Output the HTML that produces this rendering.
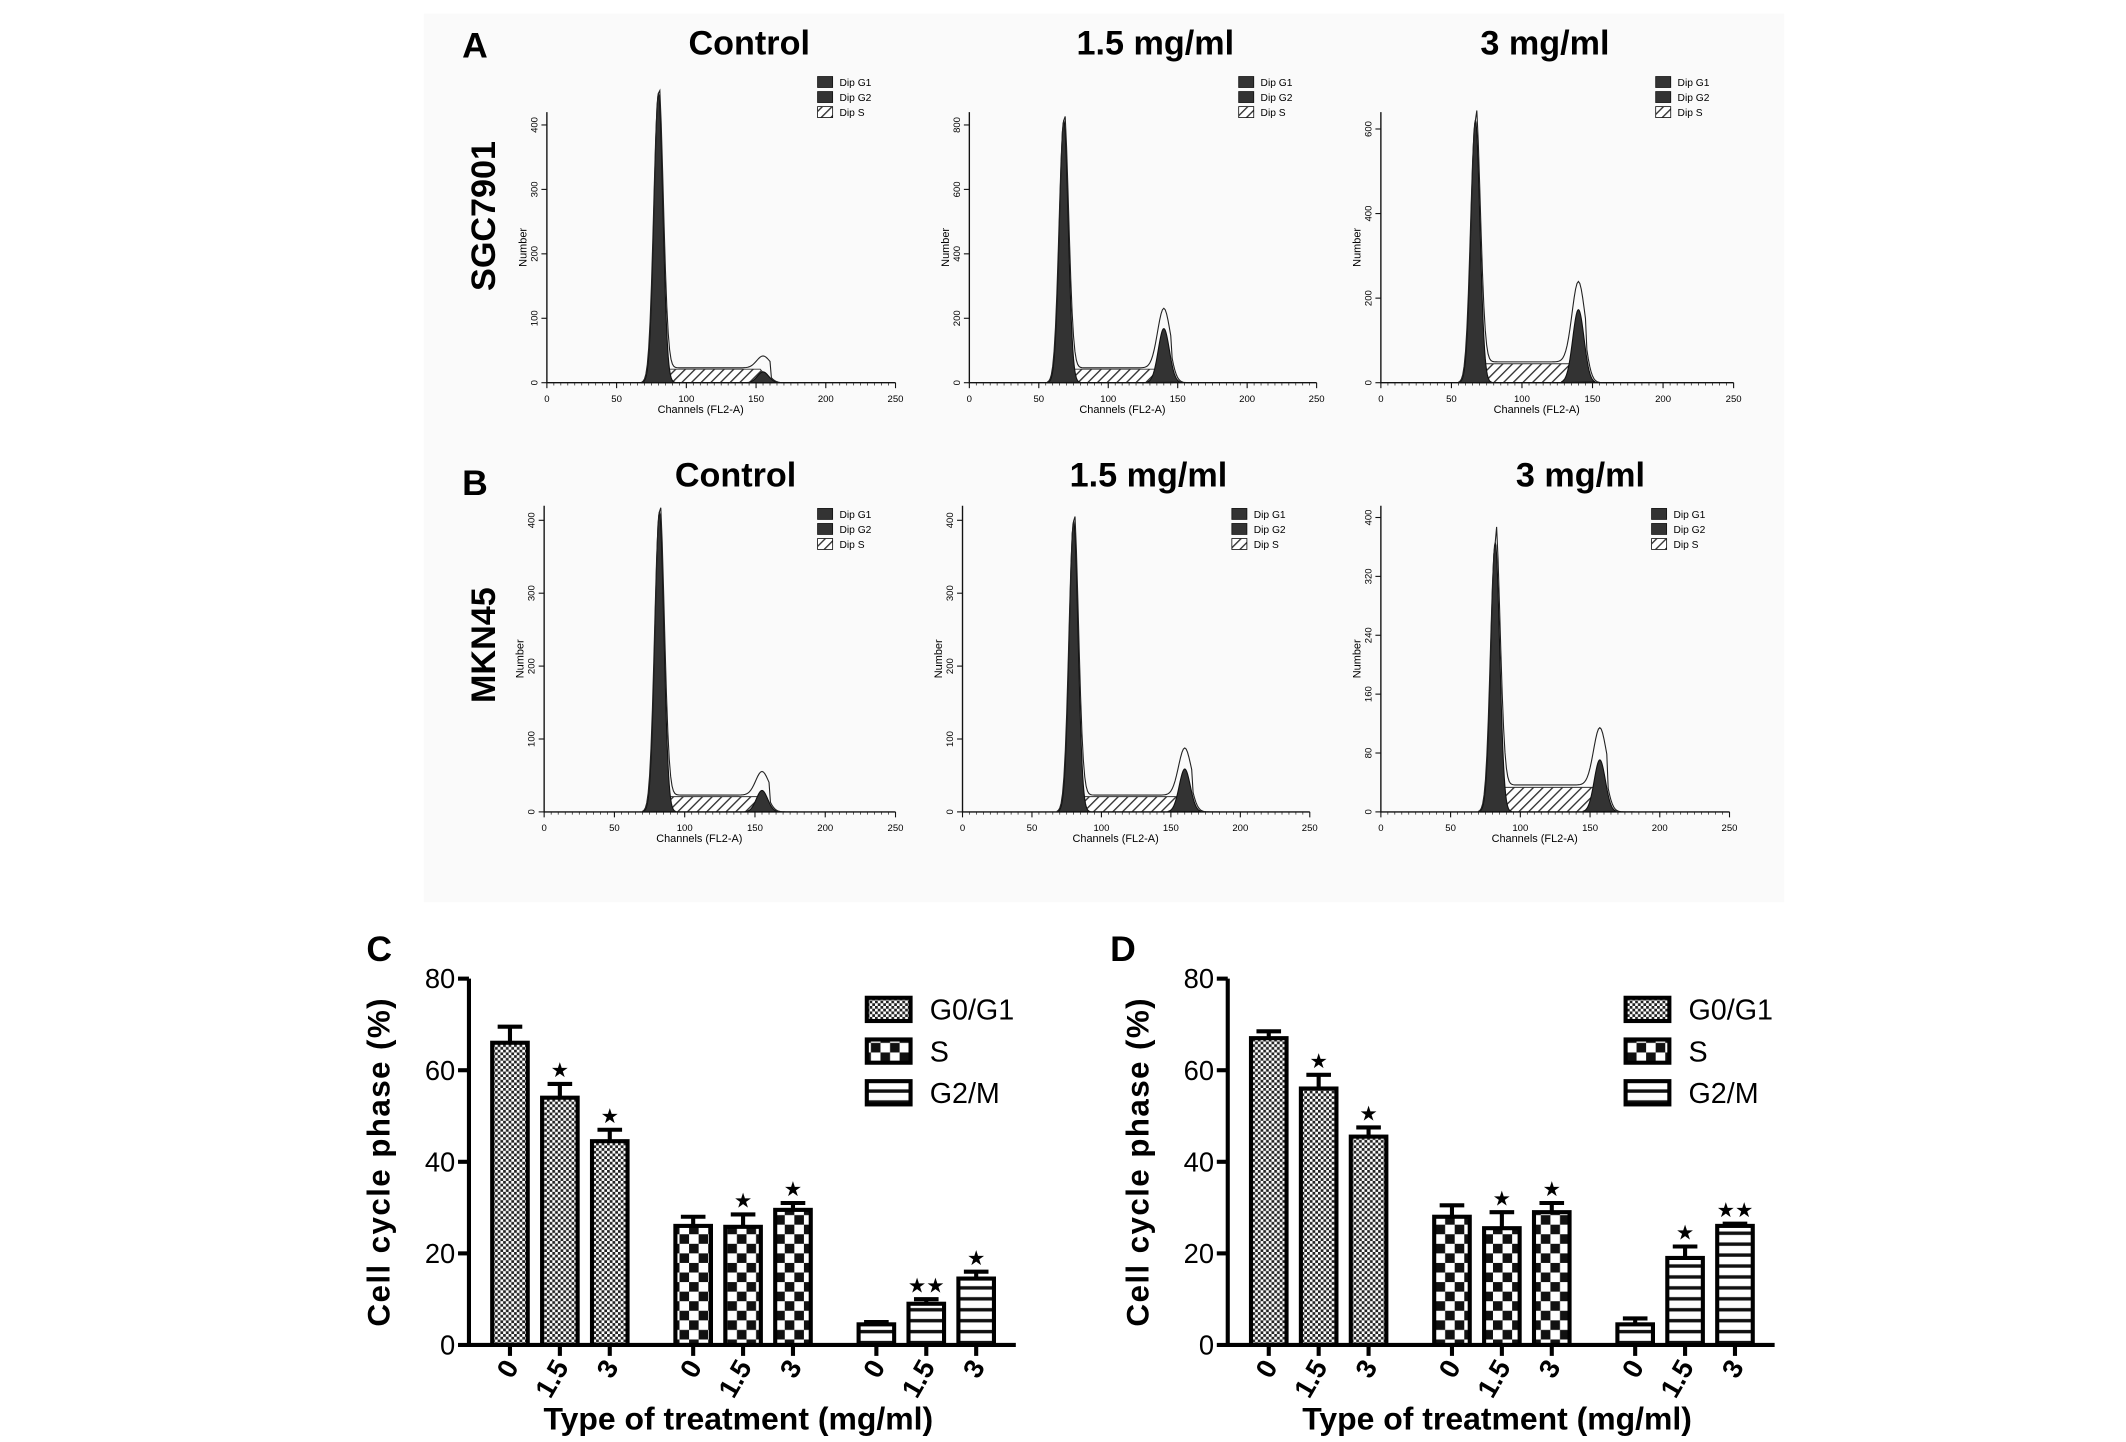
<!DOCTYPE html>
<html><head><meta charset="utf-8"><style>
html,body{margin:0;padding:0;background:#fff}
svg{display:block}
text{font-family:"Liberation Sans",sans-serif}
</style></head><body>
<svg id="fig" width="2126" height="1442" viewBox="0 0 1555 1055" preserveAspectRatio="none" xmlns="http://www.w3.org/2000/svg">
<defs>
<pattern id="pFine" width="4" height="4" patternUnits="userSpaceOnUse"><rect width="4" height="4" fill="#fff"/><rect width="2" height="2" fill="#222"/><rect x="2" y="2" width="2" height="2" fill="#222"/></pattern>
<pattern id="pBig" width="14" height="14" patternUnits="userSpaceOnUse"><rect width="14" height="14" fill="#fff"/><rect width="7" height="7" fill="#111"/><rect x="7" y="7" width="7" height="7" fill="#111"/></pattern>
<pattern id="pStripe" width="8" height="8" patternUnits="userSpaceOnUse"><rect width="8" height="8" fill="#fff"/><rect y="5" width="8" height="2.5" fill="#111"/></pattern>
<pattern id="pHatch" width="5" height="5" patternUnits="userSpaceOnUse" patternTransform="rotate(45)"><rect width="5" height="5" fill="#fff"/><rect width="1" height="5" fill="#333"/></pattern>
</defs>
<rect x="310" y="10" width="995" height="650" fill="#fafafa"/>
<g font-family="Liberation Serif" font-weight="bold" font-size="26">
<text x="338" y="42">A</text>
<text x="338" y="362">B</text>
<text x="268" y="703">C</text>
<text x="812" y="703">D</text>
</g>
<g font-weight="bold" font-size="25" text-anchor="middle">
<text x="548" y="40">Control</text>
<text x="845" y="40">1.5 mg/ml</text>
<text x="1130" y="40">3 mg/ml</text>
<text x="538" y="356">Control</text>
<text x="840" y="356">1.5 mg/ml</text>
<text x="1156" y="356">3 mg/ml</text>
<text transform="translate(362,158) rotate(-90)">SGC7901</text>
<text transform="translate(362,472) rotate(-90)">MKN45</text>
</g>
<g id="hists"></g>
<g id="bars"></g>
</svg>
<script>
// histogram panels: G1 channel, G1 height fraction, S level, G2 channel, G2 height fraction
const histG1 = [80, 68, 67, 82, 80, 82];
const histG1H = [1.07, 0.97, 0.97, 0.98, 0.95, 0.88];
const histS = [0.05, 0.05, 0.07, 0.05, 0.05, 0.08];
const histG2 = [155, 140, 140, 155, 160, 157];
const histG2H = [0.04, 0.2, 0.27, 0.07, 0.14, 0.17];
const histYTicks = [["0","100","200","300","400"],["0","200","400","600","800"],["0","200","400","600"],["0","100","200","300","400"],["0","100","200","300","400"],["0","80","160","240","320","400"]];
const histXTicks = [0,50,100,150,200,250];

// bar charts
const barGroups = ["G0/G1","S","G2/M"];
const doses = ["0","1.5","3"];
const cMeans = [66,54,44.5, 26,25.8,29.5, 4.5,9,14.5];
const cErr = [3.5,3,2.5, 2,2.7,1.5, 0.5,1,1.5];
const cStars = [0,1,1, 0,1,1, 0,2,1];
const dMeans = [67,56,45.5, 28,25.5,29, 4.5,19,26];
const dErr = [1.5,3,2, 2.5,3.5,2, 1.3,2.5,0.5];
const dStars = [0,1,1, 0,1,1, 0,1,2];
const yTicks = [0,20,40,60,80];

const NS="http://www.w3.org/2000/svg";
function mk(tag, attrs, parent){const e=document.createElementNS(NS,tag);for(const k in attrs)e.setAttribute(k,attrs[k]);parent.appendChild(e);return e;}

const hg=document.getElementById('hists');
const layouts=[[400,655,82,280],[709,963,82,280],[1010,1268,82,280],[398,655,370,594],[704,958,370,594],[1010,1265,370,594]];
layouts.forEach((L,i)=>{
  const [x0,x1,yt,yb]=L; const H=yb-yt;
  const g=mk('g',{},hg);
  
  
  const sx=c=>x0+(x1-x0)*c/250, sy=f=>yb-H*f;
  const gauss=(c,m,s)=>Math.exp(-0.5*((c-m)/s)**2);
  const a=histG1[i]+4,b=histG2[i]-2;
  const sp=mk('polygon',{points:`${sx(a-3)},${yb} ${sx(a)},${sy(histS[i])} ${sx(b)},${sy(histS[i])} ${sx(b+8)},${yb}`,fill:'url(#pHatch)',stroke:'#333','stroke-width':0.7},g);
  
  
  let p1=`M${sx(histG1[i]-12)},${yb}`;
  for(let c=histG1[i]-12;c<=histG1[i]+12;c+=0.5)p1+=` L${sx(c)},${sy(histG1H[i]*gauss(c,histG1[i],3.2))}`;
  const e1=mk('path',{d:p1+'Z',fill:'#333',stroke:'#111','stroke-width':0.8},g);
  
  
  let p2=`M${sx(histG2[i]-12)},${yb}`;
  for(let c=histG2[i]-12;c<=histG2[i]+12;c+=0.5)p2+=` L${sx(c)},${sy(histG2H[i]*gauss(c,histG2[i],4))}`;
  const e2=mk('path',{d:p2+'Z',fill:'#333',stroke:'#111','stroke-width':0.8},g);
  
  
  let po='';
  for(let c=histG1[i]-12;c<=histG2[i]+25;c+=1){
    let v=histG1H[i]*gauss(c,histG1[i],3.4)+histG2H[i]*1.1*gauss(c,histG2[i],4.5)+(c>histG1[i]&&c<histG2[i]+6?histS[i]*1.1:0);
    po+=(po?' L':'M')+sx(c)+','+sy(Math.min(v,1.1));
  }
  const eo=mk('path',{d:po,fill:'none',stroke:'#222','stroke-width':0.8},g);
  
  
  const ax=mk('path',{d:`M${x0},${yt} L${x0},${yb} L${x1},${yb}`,fill:'none',stroke:'#111','stroke-width':1},g);
  
  
  histXTicks.forEach(t=>{
    mk('line',{x1:sx(t),x2:sx(t),y1:yb,y2:yb+4,stroke:'#111','stroke-width':0.8},g);
    const tx=mk('text',{x:sx(t),y:yb+14,'font-size':7,'text-anchor':'middle'},g);tx.textContent=t;
    
    
  });
  for(let c=5;c<250;c+=5)mk('line',{x1:sx(c),x2:sx(c),y1:yb,y2:yb+2,stroke:'#111','stroke-width':0.5},g);
  const yt_=histYTicks[i]; const step=H/(yt_.length-0.8);
  yt_.forEach((t,k)=>{
    const yy=yb-k*step;
    mk('line',{x1:x0-4,x2:x0,y1:yy,y2:yy,stroke:'#111','stroke-width':0.8},g);
    const tx=mk('text',{transform:`translate(${x0-7},${yy}) rotate(-90)`,'font-size':7,'text-anchor':'middle'},g);tx.textContent=t;
    
    
  });
  const nl=mk('text',{transform:`translate(${x0-15},${(yt+yb)/2}) rotate(-90)`,'font-size':8,'text-anchor':'middle'},g);nl.textContent='Number';
  
  
  const cl=mk('text',{x:(x0+x1)/2-15,y:yb+22,'font-size':8,'text-anchor':'middle'},g);cl.textContent='Channels (FL2-A)';
  
  
  ['Dip G1','Dip G2','Dip S'].forEach((t,k)=>{
    const lx=x1-57, ly=(i>=3?yt+2:yt-26)+k*11;
    const r=mk('rect',{x:lx,y:ly,width:11,height:8,fill:k==2?'url(#pHatch)':'#333',stroke:'#111','stroke-width':0.6},g);
    
    
    const tx=mk('text',{x:lx+16,y:ly+7,'font-size':7.5},g);tx.textContent=t;
    
    
  });
});

const bg=document.getElementById('bars');
const pats=['url(#pFine)','url(#pBig)','url(#pStripe)'];
function barChart(ox, means, errs, stars, name){
  const g=mk('g',{},bg);
  
  
  const y0=984, y80=716;
  const sy=v=>y0-(y0-y80)*v/80;
  const sx=i=>ox+30+Math.floor(i/3)*134+(i%3)*36.5;
  const bw=26;
  means.forEach((m,i)=>{
    const cx=sx(i);
    const eb=mk('path',{d:`M${cx},${sy(m)} L${cx},${sy(m+errs[i])} M${cx-9},${sy(m+errs[i])} L${cx+9},${sy(m+errs[i])}`,stroke:'#000','stroke-width':3,fill:'none'},g);
    
    
    const r=mk('rect',{x:cx-bw/2,y:sy(m),width:bw,height:y0-sy(m),fill:pats[Math.floor(i/3)],stroke:'#000','stroke-width':3},g);
    
    
    if(stars[i]){
      const st=mk('text',{x:cx,y:sy(m+errs[i])-5,'font-size':15,'text-anchor':'middle'},g);st.textContent='★'.repeat(stars[i]);
      
      
    }
    mk('line',{x1:cx,x2:cx,y1:y0,y2:y0+8,stroke:'#000','stroke-width':3},g);
    const tl=mk('text',{transform:`translate(${cx+7},${y0+16}) rotate(-60)`,'font-size':20,'font-weight':'bold','text-anchor':'end'},g);tl.textContent=doses[i%3];
    
    
  });
  const ax=mk('path',{d:`M${ox},${y80} L${ox},${y0} L${ox+400},${y0}`,fill:'none',stroke:'#000','stroke-width':3},g);
  
  
  yTicks.forEach(t=>{
    mk('line',{x1:ox-8,x2:ox,y1:sy(t),y2:sy(t),stroke:'#000','stroke-width':3},g);
    const tx=mk('text',{x:ox-10,y:sy(t)+7,'font-size':20,'text-anchor':'end'},g);tx.textContent=t;
    
    
  });
  const yl=mk('text',{transform:`translate(${ox-58},${850}) rotate(-90)`,'font-size':23,'font-weight':'bold','text-anchor':'middle','letter-spacing':'1'},g);yl.textContent='Cell cycle phase (%)';
  
  
  const xl=mk('text',{x:ox+197,y:1046,'font-size':23,'font-weight':'bold','text-anchor':'middle',textLength:285,lengthAdjust:'spacingAndGlyphs'},g);xl.textContent='Type of treatment (mg/ml)';
  
  
  barGroups.forEach((n,k)=>{
    const ly=730+k*30.5;
    const r=mk('rect',{x:ox+291,y:ly,width:32,height:17,fill:pats[k],stroke:'#000','stroke-width':3},g);
    
    
    const tx=mk('text',{x:ox+337,y:ly+16,'font-size':21},g);tx.textContent=n;
    
    
  });
}
barChart(343,cMeans,cErr,cStars,'chart-c');
barChart(898,dMeans,dErr,dStars,'chart-d');
</script>
</body></html>
